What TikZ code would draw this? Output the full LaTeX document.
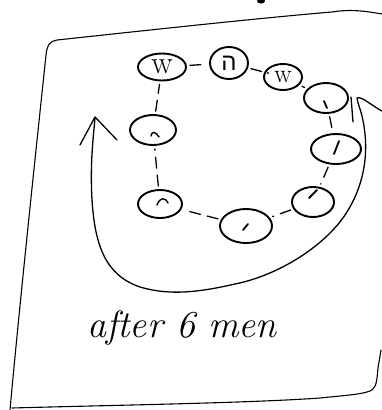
\documentclass[tikz,border=0pt]{standalone}
\usepackage{fontspec}
\newfontfamily\hebfont[Script=Hebrew]{Liberation Sans}
\usetikzlibrary{shapes.geometric}
\TeXXeTstate=1
\begin{document}
\begin{tikzpicture}[x=1pt,y=-1pt,
  pen/.style={line width=1.3pt, line cap=round, line join=round},
  frame/.style={line width=1.1pt, line cap=round, line join=round},
  person/.style={ellipse, draw, line width=1.9pt, inner sep=0pt},
  link/.style={pen, dash pattern=on 11pt off 7pt, shorten <=3pt, shorten >=3pt},
  tick/.style={line width=1.8pt, line cap=round}]
\useasboundingbox (0,0) rectangle (382,410);
% frame
\draw[frame] (10,410) .. controls (20,300) and (36,150) .. (46,55)
  .. controls (47,45) and (50,41) .. (57,40)
  .. controls (150,30) and (260,18) .. (332,12)
  .. controls (350,9) and (365,11) .. (382,14);
\draw[frame] (12,408) .. controls (120,405) and (250,403) .. (320,398)
  .. controls (350,395) and (365,394) .. (372,390)
  .. controls (377,386) and (377,378) .. (378,368) -- (381,350);
\fill (261,1) ellipse (4pt and 2.5pt);
% people
\node[person, minimum width=48pt, minimum height=27pt] (w1) at (162,67) {\fontsize{32}{32}\selectfont w};
\node[person, minimum width=38pt, minimum height=32pt] (he) at (229,63) {\hebfont\fontsize{24}{24}\selectfont\beginR ה\endR};
\node[person, minimum width=38pt, minimum height=26pt] (w2) at (283,77) {\fontsize{26}{26}\selectfont w};
\node[person, minimum width=44pt, minimum height=30pt] (p4) at (326,98) {};
\node[person, minimum width=50pt, minimum height=30pt] (p5) at (336,149) {};
\node[person, minimum width=42pt, minimum height=30pt] (p6) at (313,202) {};
\node[person, minimum width=52pt, minimum height=34pt] (p7) at (246,226) {};
\node[person, minimum width=44pt, minimum height=28pt] (p8) at (160,204) {};
\node[person, minimum width=46pt, minimum height=30pt] (p9) at (153,130) {};
% links
\draw[link] (w1) -- (he);
\draw[link] (he) -- (w2);
\draw[link] (w2) -- (p4);
\draw[link] (p4) -- (p5);
\draw[link] (p5) -- (p6);
\draw[link] (p6) -- (p7);
\draw[link] (p7) -- (p8);
\draw[link] (p8) -- (p9);
\draw[link] (p9) -- (w1);
% small marks inside
\fill (268,73) circle (1.2pt);
\draw[tick] (324,101) -- (327,108);
\draw[tick] (339,141) -- (334,154);
\draw[tick] (317,190) -- (309,198);
\draw[tick] (248,224) -- (243,230);
\draw[tick, line width=1.4pt] (157,205) .. controls (160,197) and (165,197) .. (168,203);
\draw[tick, line width=1.4pt] (151,136) .. controls (152,131) and (155,131) .. (159,137);
\draw[pen] (351,97) -- (353,122);
% loop arrow
\draw[pen] (382,111) .. controls (372,106) and (362,96) .. (357,98)
  .. controls (358,104) and (360,108) .. (362,116)
  .. controls (370,150) and (365,185) .. (345,215)
  .. controls (325,245) and (280,275) .. (235,284)
  .. controls (200,292) and (170,296) .. (140,287)
  .. controls (105,275) and (95,245) .. (92,200)
  .. controls (90,165) and (93,140) .. (95,118);
\draw[pen] (80,145) -- (95,117) -- (117,140);
% caption
\node[font=\itshape\fontsize{38}{38}\selectfont] (cap) at (182,328) {after 6 men};
\end{tikzpicture}
\end{document}
